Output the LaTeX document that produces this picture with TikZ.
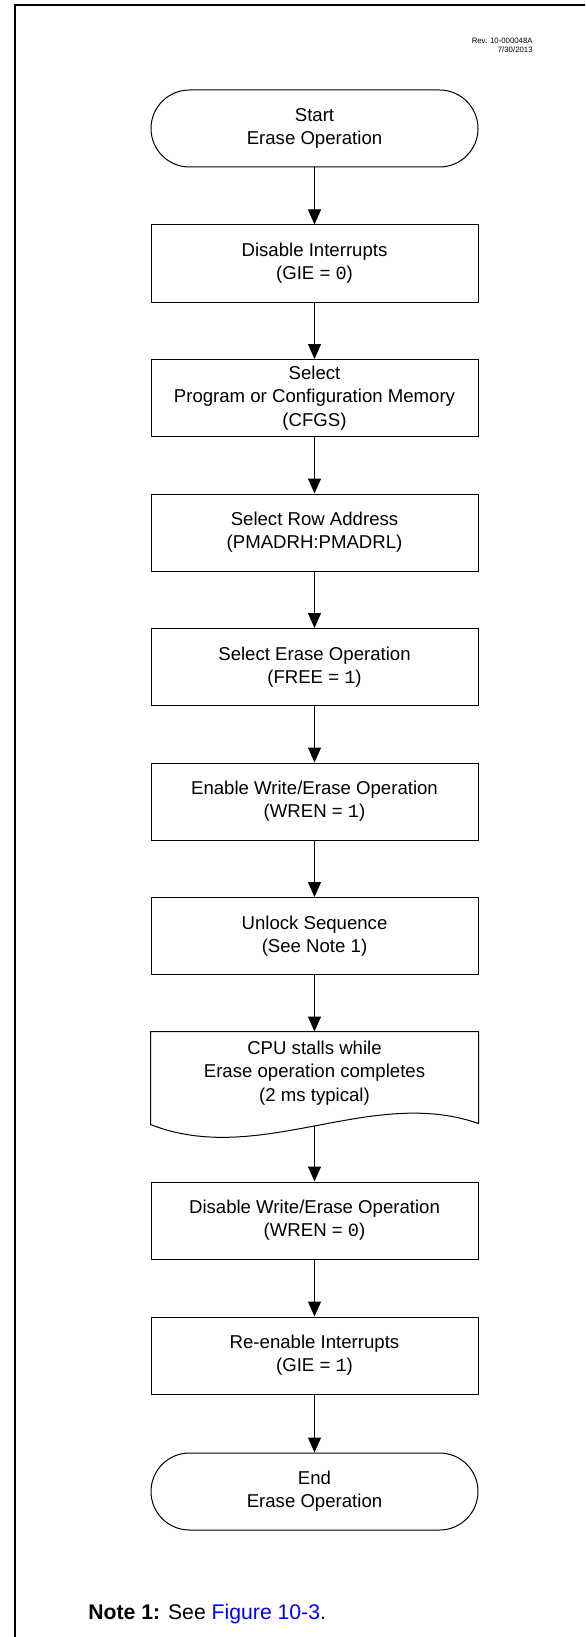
\documentclass[tikz,border=0pt]{standalone}
\usepackage{fontspec}
\setmainfont{Liberation Sans}
\setmonofont{Liberation Mono}
\usetikzlibrary{arrows.meta,calc}
\definecolor{linkblue}{RGB}{0,0,255}

\begin{document}
\begin{tikzpicture}[x=0.5pt,y=-0.5pt,>={Triangle[length=7.5pt,width=6.5pt]},
    procbox/.style={draw,line width=0.5pt,minimum width=163.5pt,minimum height=38.5pt,
        align=center,inner sep=0pt,font=\fontsize{9.3}{11.6}\selectfont},
    termbox/.style={procbox,rounded corners=19.25pt},
    docbox/.style={procbox,draw=none,minimum height=41pt},
    flow/.style={->,line width=0.5pt}]
    \useasboundingbox (0,0) rectangle (585,1637);

    % Frame
    \draw[line width=1.2pt] (15,1637) -- (15,5) -- (585,5);

    % Revision stamp
    \node[anchor=north east,align=right,inner sep=0pt,font=\fontsize{3.9}{4.5}\selectfont]
        (rev) at (533,38) {Rev. 10-000048A\\7/30/2013};

    % Flow steps
    \node[termbox] (start) at (314.5,128.5) {Start\\Erase Operation};
    \node[procbox] (giedis) at (314.5,263.5) {Disable Interrupts\\(GIE = \texttt{0})};
    \node[procbox] (memsel) at (314.5,398) {Select\\Program or Configuration Memory\\(CFGS)};
    \node[procbox] (rowsel) at (314.5,532.5) {Select Row Address\\(PMADRH:PMADRL)};
    \node[procbox] (erasesel) at (314.5,667) {Select Erase Operation\\(FREE = \texttt{1})};
    \node[procbox] (wren) at (314.5,801.5) {Enable Write/Erase Operation\\(WREN = \texttt{1})};
    \node[procbox] (unlock) at (314.5,936) {Unlock Sequence\\(See Note 1)};
    \node[docbox] (stall) at (314.5,1073) {CPU stalls while\\Erase operation completes\\(2 ms typical)};
    \node[procbox] (wrendis) at (314.5,1220.5) {Disable Write/Erase Operation\\(WREN = \texttt{0})};
    \node[procbox] (gieen) at (314.5,1355.5) {Re-enable Interrupts\\(GIE = \texttt{1})};
    \node[termbox] (stop) at (314.5,1491.5) {End\\Erase Operation};

    % Document shape with wavy bottom
    \draw[line width=0.5pt] (stall.north west) -- (stall.north east)
        -- ($(stall.south east)+(0,9)$)
        .. controls ($(stall.south east)+(-108,-29)$) and ($(stall.south west)+(109,53)$)
        .. ($(stall.south west)+(0,10)$) -- cycle;
    \coordinate (stallbot) at ($(stall.south)+(0,11)$);

    % Connectors
    \foreach \a/\b in {start/giedis,giedis/memsel,memsel/rowsel,rowsel/erasesel,
        erasesel/wren,wren/unlock,unlock/stall,stallbot/wrendis,wrendis/gieen,gieen/stop}
        \draw[flow] (\a) -- (\b);

    % Note
    \node[anchor=base west,inner sep=0pt,font=\fontsize{10.6}{12}\selectfont]
        (note) at (88,1619) {\textbf{Note 1:} See \textcolor{linkblue}{Figure 10-3}.};
\end{tikzpicture}
\end{document}
